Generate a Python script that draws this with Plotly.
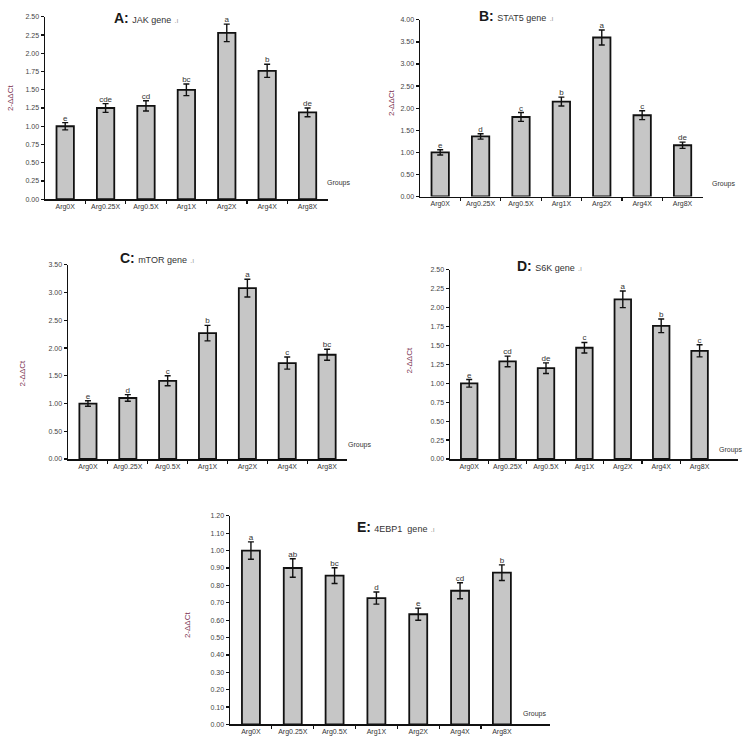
import plotly.graph_objects as go

groups = ["Arg0X", "Arg0.25X", "Arg0.5X", "Arg1X", "Arg2X", "Arg4X", "Arg8X"]

jak_vals = [1.00, 1.25, 1.28, 1.50, 2.28, 1.76, 1.19]
jak_errs = [0.05, 0.06, 0.07, 0.08, 0.12, 0.09, 0.06]
jak_letters = ["e", "cde", "cd", "bc", "a", "b", "de"]

stat5_vals = [1.00, 1.36, 1.80, 2.15, 3.60, 1.84, 1.16]
stat5_errs = [0.06, 0.06, 0.10, 0.10, 0.17, 0.10, 0.07]
stat5_letters = ["e", "d", "c", "b", "a", "c", "de"]

mtor_vals = [1.00, 1.10, 1.41, 2.27, 3.08, 1.73, 1.88]
mtor_errs = [0.05, 0.06, 0.09, 0.14, 0.16, 0.11, 0.10]
mtor_letters = ["e", "d", "c", "b", "a", "c", "bc"]

s6k_vals = [1.00, 1.29, 1.20, 1.47, 2.11, 1.76, 1.43]
s6k_errs = [0.05, 0.07, 0.07, 0.07, 0.11, 0.09, 0.08]
s6k_letters = ["e", "cd", "de", "c", "a", "b", "c"]

ebp_vals = [1.00, 0.90, 0.856, 0.727, 0.634, 0.769, 0.873]
ebp_errs = [0.05, 0.053, 0.045, 0.035, 0.035, 0.046, 0.045]
ebp_letters = ["a", "ab", "bc", "d", "e", "cd", "b"]

panels = [
    dict(vals=jak_vals, errs=jak_errs, letters=jak_letters, title="A:", gene="JAK gene",
         ymax=2.5, dtick=0.25, xdom=[0.060, 0.437], ydom=[0.7359, 0.9826], xmax=6.5,
         tpos=(112, 14), ytpos=(10, 95), gpos=(352, 181)),
    dict(vals=stat5_vals, errs=stat5_errs, letters=stat5_letters, title="B:", gene="STAT5 gene",
         ymax=4.0, dtick=0.5, xdom=[0.560, 0.937], ydom=[0.7395, 0.9786], xmax=6.5,
         tpos=(477, 12), ytpos=(391, 100), gpos=(737, 182)),
    dict(vals=mtor_vals, errs=mtor_errs, letters=mtor_letters, title="C:", gene="mTOR gene",
         ymax=3.5, dtick=0.5, xdom=[0.0907, 0.4627], ydom=[0.3843, 0.6470], xmax=6.5,
         tpos=(118, 256), ytpos=(22, 373), gpos=(373, 445)),
    dict(vals=s6k_vals, errs=s6k_errs, letters=s6k_letters, title="D:", gene="S6K gene",
         ymax=2.5, dtick=0.25, xdom=[0.600, 0.984], ydom=[0.3843, 0.6403], xmax=7.0,
         tpos=(515, 264), ytpos=(410, 360), gpos=(744, 450)),
    dict(vals=ebp_vals, errs=ebp_errs, letters=ebp_letters, title="E:", gene="4EBP1  gene",
         ymax=1.2, dtick=0.1, xdom=[0.3067, 0.7333], ydom=[0.0251, 0.3074], xmax=7.15,
         tpos=(355, 528), ytpos=(187, 627), gpos=(548, 717)),
]

W, H = 750, 746
fig = go.Figure()
layout = dict(width=W, height=H, margin=dict(l=0, r=0, t=0, b=0),
              paper_bgcolor="white", plot_bgcolor="white", showlegend=False,
              font=dict(family="Liberation Sans, Arial, sans-serif", color="#333"))
annotations = []
xidx = list(range(len(groups)))

for i, p in enumerate(panels):
    n = "" if i == 0 else str(i + 1)
    xa, ya = "x" + n, "y" + n
    fig.add_trace(go.Bar(
        x=xidx, y=p["vals"], xaxis=xa, yaxis=ya, width=0.43,
        marker=dict(color="#c6c6c6", line=dict(color="#111", width=1.8)),
        error_y=dict(type="data", array=p["errs"], color="#111", thickness=1.4, width=3),
    ))
    fig.add_trace(go.Scatter(
        x=xidx, y=[v + e for v, e in zip(p["vals"], p["errs"])], xaxis=xa, yaxis=ya,
        mode="text", text=p["letters"], textposition="top center",
        textfont=dict(size=8, color="#333"), cliponaxis=False,
    ))
    layout["xaxis" + n] = dict(
        domain=p["xdom"], anchor=ya, range=[-0.5, p["xmax"]],
        tickmode="array", tickvals=xidx, ticktext=groups, ticks="",
        tickfont=dict(size=7, color="#333"), showline=True, linecolor="#111", linewidth=1.5,
        showgrid=False, zeroline=False, fixedrange=True,
        minor=dict(tickmode="array", tickvals=[k + 0.5 for k in xidx[:-1]],
                   ticks="outside", ticklen=3, tickcolor="#111", tickwidth=1.2),
    )
    layout["yaxis" + n] = dict(
        domain=p["ydom"], anchor=xa, range=[0, p["ymax"]], dtick=p["dtick"], tick0=0,
        tickformat=".2f", ticks="outside", ticklen=3, tickcolor="#111", tickwidth=1.2,
        tickfont=dict(size=7, color="#444"), showline=True, linecolor="#111", linewidth=1.5,
        showgrid=False, zeroline=False, fixedrange=True,
    )
    annotations.append(dict(
        xref="paper", yref="paper", x=p["tpos"][0] / W, y=1 - p["tpos"][1] / H,
        xanchor="left", yanchor="middle", showarrow=False,
        text=("<span style='font-size:14px;color:#1a1a1a'><b>" + p["title"] + "</b></span>"
              " <span style='font-size:9px;color:#333'>" + p["gene"] + "</span>"
              " <span style='font-size:7px;color:#999'>.ı</span>"),
    ))
    annotations.append(dict(
        xref="paper", yref="paper", x=p["ytpos"][0] / W, y=1 - p["ytpos"][1] / H,
        xanchor="center", yanchor="middle", showarrow=False, textangle=-90,
        text="2-ΔΔCt", font=dict(size=8, color="#7a3050"),
    ))
    annotations.append(dict(
        xref="paper", yref="paper", x=p["gpos"][0] / W, y=1 - p["gpos"][1] / H,
        xanchor="right", yanchor="middle", showarrow=False,
        text="Groups", font=dict(size=7, color="#333"),
    ))

layout["annotations"] = annotations
fig.update_layout(**layout)
fig.write_html(
    "out.html",
    config={"displayModeBar": False, "staticPlot": True},
    post_script="document.body.style.margin='0';document.body.style.overflow='hidden';",
)
